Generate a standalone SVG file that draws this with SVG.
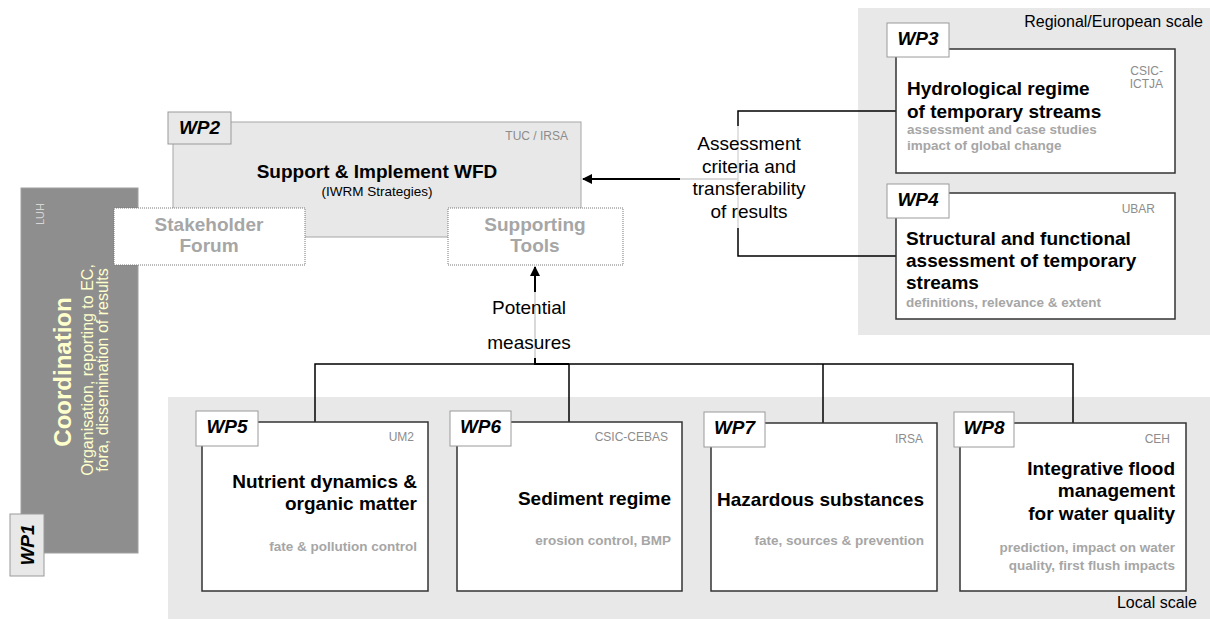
<svg xmlns="http://www.w3.org/2000/svg" width="1210" height="619" viewBox="0 0 1210 619">
<style>
text{font-family:"Liberation Sans",Arial,sans-serif}
.box{fill:#fff;stroke:#333;stroke-width:1.5}
.tag{fill:#fff;stroke:#9a9a9a;stroke-width:1}
.tagg{fill:#e8e8e8;stroke:#9a9a9a;stroke-width:1}
.tagt{font-size:19px;font-weight:bold;font-style:italic;fill:#000;text-anchor:middle}
.title{font-size:19px;font-weight:bold;fill:#000}
.sub{font-size:13.5px;font-weight:bold;fill:#a6a6a6}
.aff{font-size:12px;fill:#8c8c8c}
.r{text-anchor:end}
.m{text-anchor:middle}
.conn{stroke:#000;stroke-width:1.5;fill:none}
.arr{stroke:#000;stroke-width:2;fill:none;marker-end:url(#ah)}
.lbl{font-size:19px;fill:#000;text-anchor:middle}
.scale{font-size:16px;fill:#000;text-anchor:end}
.dot{fill:#fff;stroke:#777;stroke-width:1;stroke-dasharray:1 1}
.gt{font-size:19px;font-weight:bold;fill:#a6a6a6;text-anchor:middle}
</style>
<defs>
<marker id="ah" viewBox="0 0 10 10" refX="9" refY="5" markerWidth="5" markerHeight="5" orient="auto" markerUnits="strokeWidth">
<path d="M0,0 L10,5 L0,10 z" fill="#000"/>
</marker>
</defs>

<g id="backgrounds">
<rect x="858" y="8" width="352" height="327" fill="#e8e8e8"/>
<text class="scale" x="1203" y="27">Regional/European scale</text>
<rect x="168" y="397" width="1042" height="222" fill="#e8e8e8"/>
<text class="scale" x="1197" y="608">Local scale</text>
</g>

<g id="wp1">
<rect x="21" y="188" width="117" height="365" fill="#8e8e8e" stroke="#a0a0a0" stroke-width="1"/>
<text transform="translate(44,225) rotate(-90)" font-size="11" fill="#d6d6d6">LUH</text>
<text transform="translate(71,372) rotate(-90)" font-size="24" font-weight="bold" fill="#ffffcc" text-anchor="middle">Coordination</text>
<text transform="translate(93,370) rotate(-90)" font-size="16" fill="#ffffcc" text-anchor="middle">Organisation, reporting to EC,</text>
<text transform="translate(108,370) rotate(-90)" font-size="16" fill="#ffffcc" text-anchor="middle">fora, dissemination of results</text>
<rect class="tagg" x="10" y="514" width="34" height="62"/>
<text class="tagt" transform="translate(34,545) rotate(-90)">WP1</text>
</g>

<g id="wp2">
<rect x="173" y="122" width="408" height="115" fill="#e8e8e8" stroke="#a6a6a6" stroke-width="1"/>
<rect class="tagg" x="168" y="112" width="63" height="32"/>
<text class="tagt" x="199.5" y="134">WP2</text>
<text class="aff r" x="568" y="140">TUC / IRSA</text>
<text class="title m" x="377" y="178">Support &amp; Implement WFD</text>
<text class="m" x="377" y="196" font-size="13.5" fill="#000">(IWRM Strategies)</text>
</g>

<g id="stakeholder-forum">
<rect class="dot" x="114" y="208" width="191" height="57"/>
<text class="gt" x="209" y="231">Stakeholder</text>
<text class="gt" x="209" y="252">Forum</text>
</g>

<g id="supporting-tools">
<rect class="dot" x="448" y="208" width="175" height="57"/>
<text class="gt" x="535" y="231">Supporting</text>
<text class="gt" x="535" y="252">Tools</text>
</g>

<g id="connectors">
<path class="conn" d="M896,111 H738 V256 H896"/>
<path class="arr" d="M738,179 H583"/>
<path class="conn" d="M315,422 V364 H1073 V423"/>
<path class="conn" d="M569,364 V422"/>
<path class="conn" d="M823,364 V423"/>
<path class="arr" d="M569,364 H535 V267"/>
</g>

<g id="label-assessment">
<rect x="680" y="126" width="138" height="102" fill="#fff" fill-opacity="0.85"/>
<text class="lbl" x="749" y="150">Assessment</text>
<text class="lbl" x="749" y="173">criteria and</text>
<text class="lbl" x="749" y="195">transferability</text>
<text class="lbl" x="749" y="218">of results</text>
</g>

<g id="label-measures">
<rect x="472" y="292" width="115" height="66" fill="#fff" fill-opacity="0.85"/>
<text class="lbl" x="529" y="314">Potential</text>
<text class="lbl" x="529" y="349">measures</text>
</g>

<g id="wp3">
<rect class="box" x="896" y="49" width="279" height="124"/>
<rect class="tag" x="887" y="23" width="62" height="34"/>
<text class="tagt" x="918" y="45">WP3</text>
<text class="aff r" x="1163" y="75">CSIC-</text>
<text class="aff r" x="1163" y="88">ICTJA</text>
<text class="title" x="907" y="95">Hydrological regime</text>
<text class="title" x="907" y="118">of temporary streams</text>
<text class="sub" x="907" y="134">assessment and case studies</text>
<text class="sub" x="907" y="150">impact of global change</text>
</g>

<g id="wp4">
<rect class="box" x="896" y="193" width="279" height="126"/>
<rect class="tag" x="887" y="184" width="62" height="34"/>
<text class="tagt" x="918" y="206">WP4</text>
<text class="aff r" x="1155" y="213">UBAR</text>
<text class="title" x="906" y="245">Structural and functional</text>
<text class="title" x="906" y="267">assessment of temporary</text>
<text class="title" x="906" y="289">streams</text>
<text class="sub" x="906" y="307">definitions, relevance &amp; extent</text>
</g>

<g id="wp5">
<rect class="box" x="202" y="422" width="226" height="169"/>
<rect class="tag" x="196" y="411" width="62" height="35"/>
<text class="tagt" x="227" y="433">WP5</text>
<text class="aff r" x="414" y="441">UM2</text>
<text class="title r" x="417" y="488">Nutrient dynamics &amp;</text>
<text class="title r" x="417" y="510">organic matter</text>
<text class="sub r" x="417" y="551">fate &amp; pollution control</text>
</g>

<g id="wp6">
<rect class="box" x="457" y="422" width="225" height="169"/>
<rect class="tag" x="450" y="411" width="61" height="35"/>
<text class="tagt" x="480.5" y="433">WP6</text>
<text class="aff r" x="668" y="441">CSIC-CEBAS</text>
<text class="title r" x="671" y="505">Sediment regime</text>
<text class="sub r" x="671" y="545">erosion control, BMP</text>
</g>

<g id="wp7">
<rect class="box" x="711" y="423" width="226" height="168"/>
<rect class="tag" x="704" y="412" width="61" height="35"/>
<text class="tagt" x="734.5" y="434">WP7</text>
<text class="aff r" x="923" y="443">IRSA</text>
<text class="title r" x="924" y="506">Hazardous substances</text>
<text class="sub r" x="924" y="545">fate, sources &amp; prevention</text>
</g>

<g id="wp8">
<rect class="box" x="960" y="423" width="226" height="168"/>
<rect class="tag" x="954" y="412" width="60" height="35"/>
<text class="tagt" x="984" y="434">WP8</text>
<text class="aff r" x="1170" y="443">CEH</text>
<text class="title r" x="1175" y="475">Integrative flood</text>
<text class="title r" x="1175" y="497">management</text>
<text class="title r" x="1175" y="520">for water quality</text>
<text class="sub r" x="1175" y="552">prediction, impact on water</text>
<text class="sub r" x="1175" y="570">quality, first flush impacts</text>
</g>
</svg>
